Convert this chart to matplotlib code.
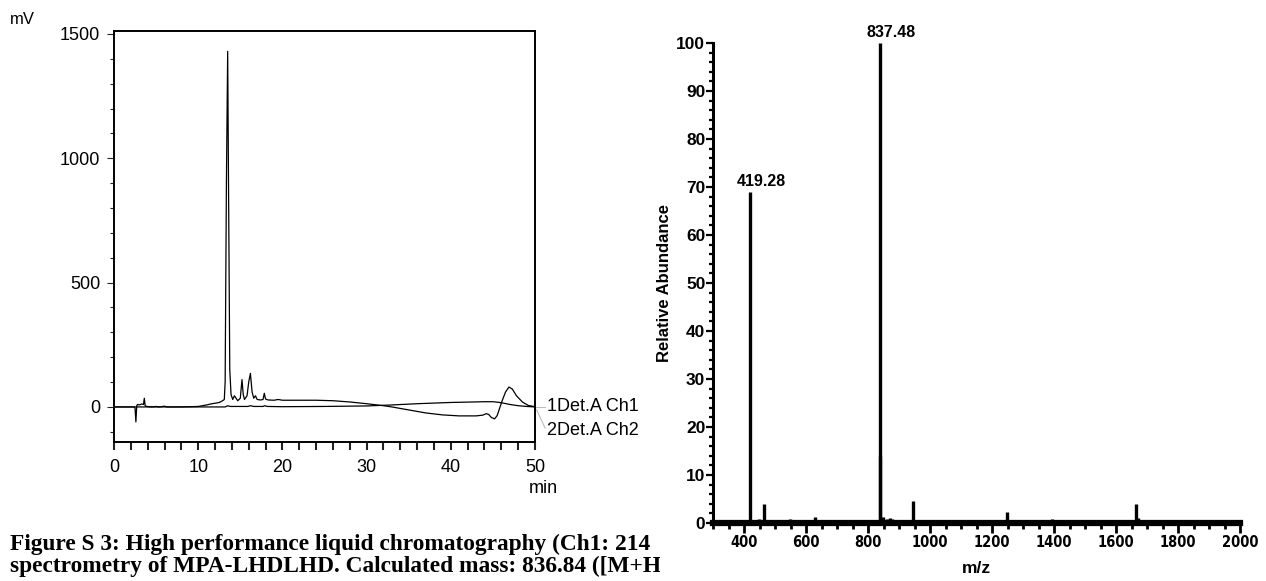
import matplotlib
matplotlib.use("Agg")
import matplotlib.pyplot as plt
from matplotlib import font_manager
from matplotlib.ticker import MultipleLocator
import numpy as np

# HPLC trace, detector A channel 1 (time in min, signal in mV)
ch1_t = [0, 2.4, 2.5, 2.6, 2.7, 2.8, 3.0, 3.3, 3.5, 3.6, 3.7, 3.9, 4.5, 5.0, 5.3,
         5.6, 6.0, 6.3, 6.6, 8, 10, 11, 11.5, 12, 12.5, 12.9, 13.1, 13.2, 13.35,
         13.5, 13.6, 13.75, 13.9, 14.1, 14.3, 14.5, 14.7, 15.0, 15.2, 15.35, 15.5,
         15.8, 16.0, 16.2, 16.4, 16.6, 16.8, 17.0, 17.4, 17.7, 17.85, 18.0, 18.3,
         19, 19.5, 20, 22, 24, 26, 28, 30, 32, 33, 35, 37, 39, 41, 43, 43.8, 44.2,
         44.5, 44.8, 45.2, 45.5, 45.8, 46.1, 46.5, 46.9, 47.3, 47.8, 48.5, 49.2, 50]
ch1_mv = [0, 0, -5, -60, 5, 10, 8, 12, 10, 35, 5, 2, 0, 2, 0,
          1, 3, 0, 0, 0, 2, 8, 12, 15, 18, 25, 30, 100, 900,
          1430, 900, 150, 50, 30, 45, 35, 25, 35, 110, 50, 30,
          45, 100, 135, 60, 35, 45, 30, 28, 30, 55, 32, 28,
          27, 30, 27, 27, 27, 25, 20, 13, 5, 0, -12, -24, -32, -36, -36, -33, -27,
          -30, -42, -48, -35, -5, 25, 60, 80, 72, 45, 20, 6, 1]

# HPLC trace, detector A channel 2
ch2_t = [0, 10, 13.2, 13.5, 13.8, 15.9, 16.2, 16.6, 17.7, 17.9, 18.2, 20, 25, 30,
         33, 36, 40, 44, 45, 45.8, 46.3, 47, 48, 49, 50]
ch2_mv = [0, 0, 0, 5, 2, 2, 5, 2, 2, 5, 2, 1, 2, 4,
          8, 13, 18, 21, 21, 18, 15, 10, 5, 2, 0]

# ESI-MS spectrum (m/z, relative abundance %)
mz = [305, 330, 360, 385, 419.28, 432, 447, 466, 487, 512, 548, 556, 575, 604,
      630, 790, 826, 837.48, 839.5, 848, 862, 872, 878, 893, 905, 945, 962, 1058,
      1180, 1248, 1256, 1270, 1300, 1345, 1392, 1400, 1430, 1666, 1670, 1690,
      1720, 1790, 1870, 1950, 1955]
abundance = [0.6, 0.4, 0.4, 0.5, 69, 0.6, 0.8, 4, 0.6, 0.4, 0.8, 0.7, 0.5, 0.4,
             1.2, 0.3, 0.6, 100, 14, 1.2, 0.8, 1.0, 0.8, 0.6, 0.6, 4.5, 0.5, 0.4,
             0.3, 2.2, 0.6, 0.4, 0.6, 0.4, 0.8, 0.5, 0.4, 4, 1.0, 0.6,
             0.5, 0.6, 0.4, 0.5, 0.5]
labelled = [419.28, 837.48]

caption = ["Figure S 3: High performance liquid chromatography (Ch1: 214",
           "spectrometry of MPA-LHDLHD. Calculated mass: 836.84 ([M+H"]

plain = 'Liberation Sans'
# narrow bold face for the m/z tick labels, if one is installed
cond = [f for f in font_manager.fontManager.ttflist
        if f.stretch == 'condensed' and f.weight in ('bold', 700)]
if any(f.name == 'Liberation Sans Narrow' for f in cond):
    xfont = dict(family='Liberation Sans Narrow', fontsize=11.5)
elif any(f.name == 'DejaVu Sans' for f in cond):
    xfont = dict(family='DejaVu Sans', fontstretch='condensed', fontsize=10.5)
else:
    xfont = dict(family=plain, fontsize=10.5)

W, H = 1266, 581
fig = plt.figure(figsize=(W / 100, H / 100), dpi=100)

# ---- left: chromatogram
ax1 = fig.add_axes([114 / W, 1 - 442 / H, 421 / W, 411 / H])
ax1.plot(ch1_t, ch1_mv, color='black', lw=0.9)
ax1.plot(ch2_t, ch2_mv, color='black', lw=0.9)
ax1.set_xlim(0, 50)
ax1.set_ylim(-141, 1512)
for s in ax1.spines.values():
    s.set_linewidth(1.4)
ax1.xaxis.set_major_locator(MultipleLocator(10))
ax1.xaxis.set_minor_locator(MultipleLocator(2))
ax1.yaxis.set_major_locator(MultipleLocator(500))
ax1.yaxis.set_minor_locator(MultipleLocator(100))
ax1.tick_params(which='both', direction='out', color='#222222')
ax1.tick_params(axis='x', which='both', length=6, width=1.5, pad=6)
ax1.tick_params(axis='y', which='major', length=5, width=0.8, pad=5)
ax1.tick_params(axis='y', which='minor', length=3, width=0.8)
ax1.tick_params(labelsize=13)
for lbl in ax1.get_xticklabels() + ax1.get_yticklabels():
    lbl.set_fontfamily(plain)
ax1.text(1.02, -0.112, 'min', transform=ax1.transAxes, ha='center', va='center',
         fontsize=13, family=plain)
fig.text(22 / W, 1 - 19 / H, 'mV', ha='center', va='center', fontsize=12, family=plain)
ax1.plot([50, 51.2], [0, 0], color='#bbbbbb', lw=0.8, clip_on=False)
ax1.plot([50.2, 51.2], [-12, -85], color='#bbbbbb', lw=0.8, clip_on=False)
ax1.text(51.4, 0, '1Det.A Ch1', ha='left', va='center', fontsize=13, family=plain)
ax1.text(51.4, -96, '2Det.A Ch2', ha='left', va='center', fontsize=13, family=plain)

# ---- right: mass spectrum
ax2 = fig.add_axes([713 / W, 1 - 523 / H, 527 / W, 480 / H])
ax2.vlines(mz, 0, abundance, color='black', lw=2.4)
ax2.set_xlim(300, 2000)
ax2.set_ylim(0, 100)
ax2.spines['top'].set_visible(False)
ax2.spines['right'].set_visible(False)
ax2.spines['bottom'].set_linewidth(4.5)
ax2.spines['left'].set_linewidth(2.2)
xt = np.arange(400, 2001, 200)
ax2.set_xticks(xt, labels=[str(v) for v in xt], fontweight='bold', **xfont)
yt = np.arange(0, 101, 10)
ax2.set_yticks(yt, labels=[str(v) for v in yt], fontsize=12.5, fontweight='bold', family=plain)
ax2.xaxis.set_minor_locator(MultipleLocator(50))
ax2.yaxis.set_minor_locator(MultipleLocator(2))
ax2.tick_params(which='both', direction='out', color='black')
ax2.tick_params(axis='x', which='major', length=7, width=2, pad=1.5)
ax2.tick_params(axis='x', which='minor', length=4, width=2)
ax2.tick_params(axis='y', which='major', length=5, width=1.6, pad=0.5)
ax2.tick_params(axis='y', which='minor', length=3, width=1.6)
ax2.set_xlabel('m/z', fontsize=12.5, fontweight='bold', family=plain, labelpad=8)
ax2.set_ylabel('Relative Abundance', fontsize=12, fontweight='bold', family=plain, labelpad=3)
for m, a in zip(mz, abundance):
    if m in labelled:
        ax2.annotate(f'{m:.2f}', (m, a), xytext=(11, 3), textcoords='offset pixels',
                     ha='center', va='bottom', fontsize=11.5, fontweight='bold', family=plain)

# ---- caption, cut off at the right panel like the source figure
axc = fig.add_axes([0, 0, 660 / W, 70 / H])
axc.set_axis_off()
axc.set_xlim(0, 1)
axc.set_ylim(0, 1)
for i, line in enumerate(caption):
    axc.text(10 / 660, 1 - (33 + 22 * i) / 70, line, ha='left', va='center', fontsize=16.8,
             fontweight='bold', family='Liberation Serif', clip_on=True)

fig.savefig('out.png', dpi=100)
